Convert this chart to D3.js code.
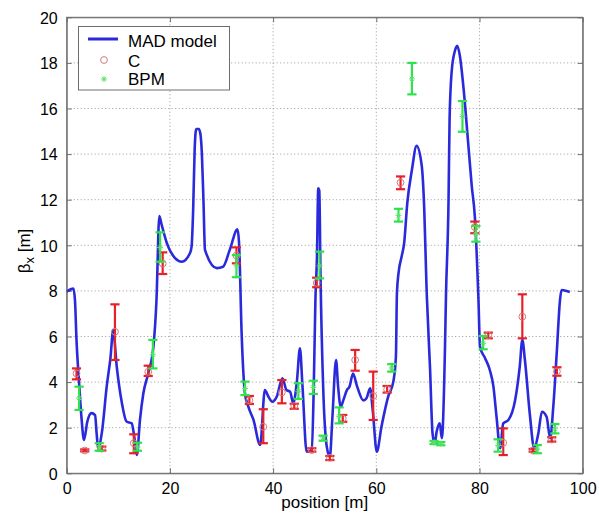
<!DOCTYPE html>
<html>
<head>
<meta charset="utf-8">
<script src="https://cdn.jsdelivr.net/npm/d3@7"></script>
<style>
  html, body { margin: 0; padding: 0; background: #fff; }
  svg { display: block; font-family: "Liberation Sans", Arial, Helvetica, sans-serif; }
</style>
</head>
<body>
<svg id="chart" width="599" height="517"></svg>
<script>
// ---- data ----
const modelPos  = [0.0, 1.3, 1.6, 1.9, 2.45, 2.9, 3.35, 4.0, 4.8, 5.5, 5.8, 6.1, 6.8, 7.75, 8.5, 9.0, 9.7, 10.7, 11.6, 12.6, 13.1, 13.6, 14.2, 14.85, 15.8, 16.8, 17.4, 17.95, 18.4, 19.4, 21.0, 22.3, 23.9, 24.2, 24.5, 24.8, 25.1, 25.6, 25.9, 26.2, 26.5, 26.8, 29.1, 30.3, 31.6, 33.1, 33.4, 33.9, 34.55, 35.2, 36.2, 37.5, 38.4, 39.1, 39.85, 40.7, 41.8, 42.6, 43.3, 43.9, 44.6, 45.2, 45.7, 46.5, 47.5, 47.9, 48.2, 48.5, 48.75, 48.95, 49.2, 49.7, 50.4, 51.0, 51.5, 52.2, 52.6, 53.1, 53.6, 54.3, 54.8, 55.5, 56.2, 57.5, 58.1, 58.8, 59.3, 60.1, 61.0, 62.3, 63.3, 63.8, 64.0, 64.3, 64.9, 65.4, 66.0, 66.9, 67.8, 68.8, 69.2, 69.8, 70.4, 70.9, 71.3, 71.7, 72.3, 72.7, 73.3, 73.5, 74.0, 74.2, 74.6, 75.2, 75.7, 76.2, 76.9, 77.8, 78.5, 79.1, 79.8, 80.1, 81.1, 82.0, 82.7, 83.3, 84.0, 84.6, 85.6, 86.9, 87.8, 88.3, 88.8, 89.8, 90.6, 91.4, 92.1, 93.0, 93.7, 94.3, 95.0, 95.6, 95.9, 97.2, 97.5];
const modelBeta = [7.97, 8.1, 7.6, 5.85, 3.8, 2.34, 1.46, 2.27, 2.64, 2.55, 1.75, 1.1, 1.76, 3.8, 5.11, 6.28, 4.68, 3.08, 2.27, 2.19, 1.6, 0.8, 2.34, 3.5, 4.38, 5.55, 7.6, 11.28, 10.9, 10.1, 9.44, 9.28, 9.66, 9.94, 11.5, 14.2, 15.1, 15.1, 14.9, 14.0, 12.0, 9.8, 9.0, 9.06, 9.8, 10.7, 10.1, 6.15, 3.5, 2.92, 2.34, 1.24, 3.65, 3.36, 3.14, 3.36, 4.17, 3.65, 3.58, 3.07, 4.0, 5.48, 3.8, 0.95, 1.02, 4.0, 7.6, 9.5, 12.5, 12.4, 8.5, 3.8, 1.17, 0.73, 2.48, 4.97, 3.8, 2.92, 3.2, 3.65, 3.8, 4.38, 3.87, 3.2, 3.29, 3.73, 2.78, 0.95, 2.04, 3.36, 4.02, 5.11, 7.9, 8.77, 9.5, 10.1, 11.84, 13.3, 14.36, 13.5, 12.1, 7.75, 4.68, 1.75, 1.3, 1.83, 2.19, 1.54, 5.4, 7.75, 12.0, 15.5, 17.6, 18.5, 18.75, 18.3, 16.9, 14.5, 12.6, 11.25, 7.6, 5.55, 5.04, 4.53, 3.8, 2.48, 1.1, 2.19, 2.34, 3.2, 4.68, 5.85, 4.97, 2.48, 1.1, 1.75, 2.7, 2.48, 1.54, 2.92, 5.4, 7.6, 8.04, 7.97, 7.95];

const cPos  = [1.9, 3.5, 6.8, 9.35, 13.0, 15.8, 18.6, 32.9, 35.4, 38.1, 41.7, 44.1, 47.5, 48.45, 51.0, 53.5, 55.9, 59.4, 62.1, 64.7, 79.1, 81.7, 84.6, 88.3, 90.4, 94.0, 95.0];
const cBeta = [4.38, 1.0, 1.08, 6.21, 1.32, 4.45, 9.2, 9.55, 3.2, 2.04, 3.55, 2.95, 1.02, 8.35, 0.68, 2.4, 4.97, 3.39, 3.68, 12.75, 10.8, 6.05, 1.34, 6.87, 1.0, 1.48, 4.47];
const cLow  = [4.12, 0.96, 1.0, 4.97, 0.88, 4.27, 8.74, 9.21, 3.04, 1.32, 3.07, 2.83, 0.95, 8.16, 0.58, 2.26, 4.5, 2.34, 3.54, 12.46, 10.53, 5.92, 0.8, 5.92, 0.95, 1.39, 4.28];
const cHigh = [4.6, 1.05, 1.17, 7.41, 1.71, 4.72, 9.69, 9.91, 3.39, 2.81, 4.09, 3.05, 1.1, 8.58, 0.76, 2.56, 5.41, 4.46, 3.83, 13.02, 11.04, 6.17, 1.97, 7.85, 1.07, 1.58, 4.65];

const bpmPos  = [2.4, 6.3, 13.7, 16.7, 18.1, 32.9, 34.55, 44.9, 47.8, 49.0, 49.7, 52.8, 63.0, 64.3, 66.9, 71.2, 72.5, 76.7, 79.3, 80.7, 83.6, 91.2, 94.6];
const bpmBeta = [3.3, 1.15, 1.15, 5.2, 9.9, 9.1, 3.72, 3.6, 3.77, 9.1, 1.55, 2.5, 4.62, 11.3, 17.3, 1.35, 1.3, 15.65, 10.5, 5.7, 1.22, 1.06, 1.95];
const bpmLow  = [2.78, 0.99, 0.99, 4.6, 9.28, 8.6, 3.43, 3.26, 3.48, 8.55, 1.43, 2.19, 4.46, 11.04, 16.62, 1.28, 1.23, 14.98, 10.16, 5.44, 0.95, 0.88, 1.75];
const bpmHigh = [3.8, 1.32, 1.34, 5.85, 10.57, 9.57, 4.02, 3.95, 4.06, 9.72, 1.65, 2.89, 4.79, 11.6, 18.0, 1.42, 1.37, 16.33, 10.85, 6.02, 1.49, 1.24, 2.16];

const xTicks = [0, 20, 40, 60, 80, 100];
const yTicks = [0, 2, 4, 6, 8, 10, 12, 14, 16, 18, 20];
const xLabel = "position [m]";
const legendLabels = ["MAD model", "C", "BPM"];

// ---- layout ----
const W = 599, H = 517;
const m = {left: 66.7, top: 17.3, right: 16.3, bottom: 43.7};
const iw = W - m.left - m.right, ih = H - m.top - m.bottom;
const BLUE = "#2a2adc", RED = "#e8202a", GREEN = "#2ee24a";
const AXC = "#6e6e6e";

const svg = d3.select("#chart");
const g = svg.append("g").attr("transform", `translate(${m.left},${m.top})`);

const x = d3.scaleLinear().domain([0, 100]).range([0, iw]);
const y = d3.scaleLinear().domain([0, 20]).range([ih, 0]);

// grid
g.append("g").selectAll("line").data(xTicks.slice(1, -1)).join("line")
  .attr("x1", d => x(d)).attr("x2", d => x(d)).attr("y1", 0).attr("y2", ih)
  .attr("stroke", "#9a9a9a").attr("stroke-width", 1).attr("stroke-dasharray", "1,2.5");
g.append("g").selectAll("line").data(yTicks.slice(1, -1)).join("line")
  .attr("y1", d => y(d)).attr("y2", d => y(d)).attr("x1", 0).attr("x2", iw)
  .attr("stroke", "#9a9a9a").attr("stroke-width", 1).attr("stroke-dasharray", "1,2.5");

// axes (ticks inward)
const xAxisB = g.append("g").attr("transform", `translate(0,${ih})`)
  .call(d3.axisBottom(x).tickValues(xTicks).tickSizeInner(-5).tickSizeOuter(0).tickPadding(9));
const xAxisT = g.append("g")
  .call(d3.axisTop(x).tickValues(xTicks).tickSizeInner(-5).tickSizeOuter(0).tickFormat(""));
const yAxisL = g.append("g")
  .call(d3.axisLeft(y).tickValues(yTicks).tickSizeInner(-5).tickSizeOuter(0).tickPadding(9));
const yAxisR = g.append("g").attr("transform", `translate(${iw},0)`)
  .call(d3.axisRight(y).tickValues(yTicks).tickSizeInner(-5).tickSizeOuter(0).tickFormat(""));
[xAxisB, xAxisT, yAxisL, yAxisR].forEach(a => {
  a.select(".domain").attr("stroke", AXC);
  a.selectAll(".tick line").attr("stroke", AXC);
  a.selectAll("text").attr("fill", "#000").style("font-size", "16px")
    .style("font-family", "'Liberation Sans', Arial, sans-serif");
});
yAxisL.selectAll("text").attr("dy", "0.36em");

// model curve
const line = d3.line().x((d, i) => x(modelPos[i])).y(d => y(d)).curve(d3.curveMonotoneX);
g.append("path").datum(modelBeta).attr("d", line)
  .attr("fill", "none").attr("stroke", BLUE).attr("stroke-width", 2.6)
  .attr("stroke-linejoin", "round");

// error bars
function errorBars(pos, val, lo, hi, color, marker) {
  const eg = g.append("g");
  const cap = 4.6;
  pos.forEach((p, i) => {
    const px = x(p);
    const grp = eg.append("g").attr("stroke", color).attr("stroke-width", 2.2).attr("fill", "none");
    grp.append("line").attr("x1", px).attr("x2", px).attr("y1", y(lo[i])).attr("y2", y(hi[i]));
    grp.append("line").attr("x1", px - cap).attr("x2", px + cap).attr("y1", y(lo[i])).attr("y2", y(lo[i]));
    grp.append("line").attr("x1", px - cap).attr("x2", px + cap).attr("y1", y(hi[i])).attr("y2", y(hi[i]));
    marker(eg, px, y(val[i]));
  });
}
function circleMarker(sel, cx, cy) {
  sel.append("circle").attr("cx", cx).attr("cy", cy).attr("r", 3.4)
    .attr("fill", "none").attr("stroke", "#cf7a7a").attr("stroke-width", 1);
}
function starMarker(sel, cx, cy) {
  const r = 3;
  const s = sel.append("g").attr("stroke", "#5be26f").attr("stroke-width", 1);
  s.append("line").attr("x1", cx - r).attr("x2", cx + r).attr("y1", cy).attr("y2", cy);
  s.append("line").attr("x1", cx).attr("x2", cx).attr("y1", cy - r).attr("y2", cy + r);
  s.append("line").attr("x1", cx - r * 0.7).attr("x2", cx + r * 0.7).attr("y1", cy - r * 0.7).attr("y2", cy + r * 0.7);
  s.append("line").attr("x1", cx - r * 0.7).attr("x2", cx + r * 0.7).attr("y1", cy + r * 0.7).attr("y2", cy - r * 0.7);
}
errorBars(cPos, cBeta, cLow, cHigh, RED, circleMarker);
errorBars(bpmPos, bpmBeta, bpmLow, bpmHigh, GREEN, starMarker);

// box redraw on top
g.append("rect").attr("x", 0).attr("y", 0).attr("width", iw).attr("height", ih)
  .attr("fill", "none").attr("stroke", AXC).attr("stroke-width", 1);

// legend
const lg = svg.append("g");
lg.append("rect").attr("x", 78.5).attr("y", 26.5).attr("width", 151).attr("height", 63.5)
  .attr("fill", "#fff").attr("stroke", AXC).attr("stroke-width", 1);
lg.append("line").attr("x1", 88).attr("x2", 118).attr("y1", 39).attr("y2", 39)
  .attr("stroke", BLUE).attr("stroke-width", 3);
circleMarker(lg, 104, 60);
starMarker(lg, 104, 79);
const ly = [46.5, 66.5, 85];
legendLabels.forEach((t, i) => {
  lg.append("text").attr("x", 128).attr("y", ly[i]).text(t)
    .style("font-size", "17px").attr("fill", "#000");
});

// axis labels
svg.append("text").attr("x", m.left + iw / 2).attr("y", 508).attr("text-anchor", "middle")
  .style("font-size", "17px").text(xLabel);
const yl = svg.append("text").attr("transform", "translate(30,251) rotate(-90)")
  .attr("text-anchor", "middle").style("font-size", "17px");
yl.append("tspan").text("β");
yl.append("tspan").attr("dy", 4).style("font-size", "13px").text("x");
yl.append("tspan").attr("dy", -4).text(" [m]");
</script>
</body>
</html>
